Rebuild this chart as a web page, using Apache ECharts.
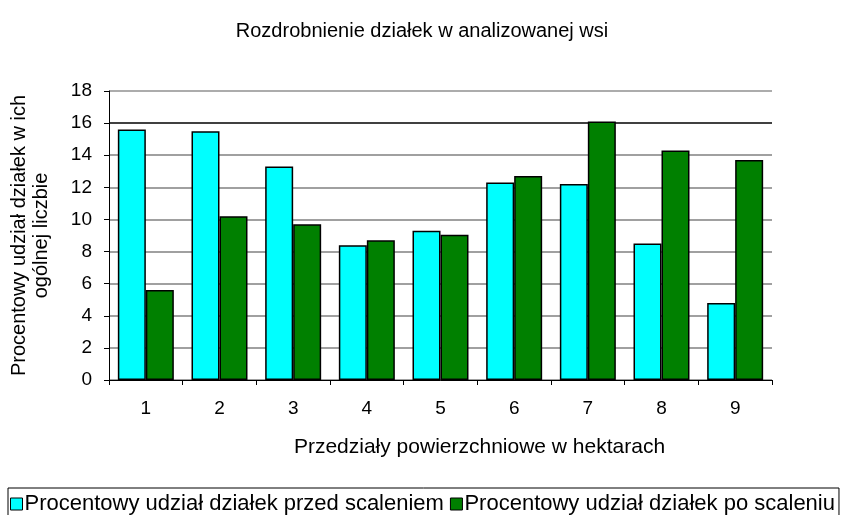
<!DOCTYPE html>
<html>
<head>
<meta charset="utf-8">
<script src="https://cdn.jsdelivr.net/npm/echarts@6/dist/echarts.min.js"></script>
<style>
  html, body { margin: 0; padding: 0; background: #fff; }
  #chart { width: 844px; height: 515px; }
</style>
</head>
<body>
<div id="chart"></div>
<script>
var categories = ['1', '2', '3', '4', '5', '6', '7', '8', '9']
var przed = [15.6, 15.5, 13.3, 8.4, 9.3, 12.3, 12.2, 8.5, 4.8]
var po = [5.6, 10.2, 9.7, 8.7, 9.05, 12.7, 16.1, 14.3, 13.7]
var seriesNames = ['Procentowy udział działek przed scaleniem', 'Procentowy udział działek po scaleniu']

var font = 'Liberation Sans, Arial, sans-serif'
var chart = echarts.init(document.getElementById('chart'))

chart.setOption({
  animation: false,
  textStyle: { fontFamily: font, color: '#000' },
  title: {
    text: 'Rozdrobnienie działek w analizowanej wsi',
    left: 'center',
    top: 16,
    textStyle: { fontSize: 20, fontWeight: 'normal', color: '#000', fontFamily: font }
  },
  legend: {
    data: seriesNames,
    left: 8,
    top: 488,
    itemWidth: 12,
    itemHeight: 12,
    itemGap: 6,
    padding: [5, 4, 10, 2],
    borderColor: '#000',
    borderWidth: 1,
    icon: 'rect',
    itemStyle: { borderColor: '#000', borderWidth: 1 },
    textStyle: { fontSize: 22, color: '#000', fontFamily: font, padding: [0, 0, 0, -3] }
  },
  grid: {
    left: 106,
    right: 72,
    top: 91,
    bottom: 135
  },
  xAxis: {
    type: 'category',
    data: categories,
    name: 'Przedziały powierzchniowe w hektarach',
    nameLocation: 'middle',
    nameGap: 57,
    nameTextStyle: { fontSize: 21, color: '#000', padding: [0, 0, 0, 78] },
    axisLine: { lineStyle: { color: '#000', width: 1 } },
    axisTick: { show: true, length: 5, lineStyle: { color: '#000' } },
    axisLabel: { fontSize: 19, color: '#000', margin: 19 }
  },
  yAxis: {
    type: 'value',
    min: 0,
    max: 18,
    interval: 2,
    name: 'Procentowy udział działek w ich\nogólnej liczbie',
    nameLocation: 'middle',
    nameRotate: 90,
    nameGap: 57,
    nameTextStyle: { fontSize: 20, color: '#000', lineHeight: 22, align: 'center' },
    axisLine: { show: true, lineStyle: { color: '#000', width: 1 } },
    axisTick: { show: true, length: 5, lineStyle: { color: '#000' } },
    axisLabel: { fontSize: 19, color: '#000', margin: 17 },
    splitLine: {
      lineStyle: {
        color: ['#808080', '#808080', '#808080', '#808080', '#808080', '#808080', '#808080', '#808080', '#000', '#909090'],
        width: 1.5
      }
    }
  },
  series: [
    {
      name: seriesNames[0],
      type: 'bar',
      data: przed,
      barGap: '0%',
      barCategoryGap: '24%',
      itemStyle: { color: '#00FFFF', borderColor: '#000', borderWidth: 1.5 }
    },
    {
      name: seriesNames[1],
      type: 'bar',
      data: po,
      barGap: '0%',
      barCategoryGap: '24%',
      itemStyle: { color: '#008000', borderColor: '#000', borderWidth: 1.5 }
    }
  ]
})
</script>
</body>
</html>
